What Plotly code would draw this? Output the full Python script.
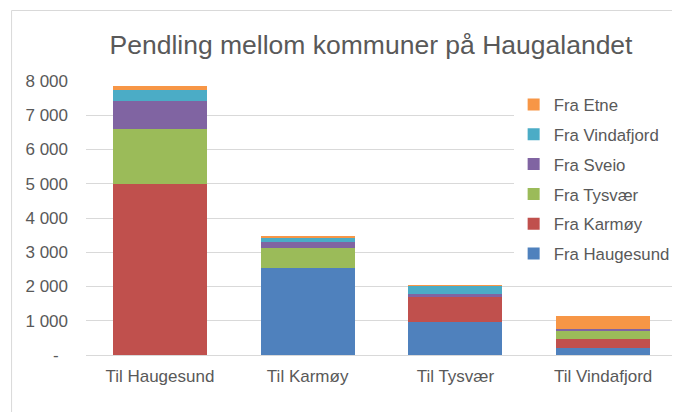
import plotly.graph_objects as go

categories = ["Til Haugesund", "Til Karmøy", "Til Tysvær", "Til Vindafjord"]
series_names = ["Fra Haugesund", "Fra Karmøy", "Fra Tysvær", "Fra Sveio", "Fra Vindafjord", "Fra Etne"]
fra_haugesund = [0, 2540, 960, 210]
fra_karmoy = [5000, 0, 730, 250]
fra_tysvaer = [1590, 590, 0, 250]
fra_sveio = [840, 170, 80, 50]
fra_vindafjord = [320, 130, 250, 0]
fra_etne = [100, 20, 20, 390]
colors = ["#4F81BD", "#C0504D", "#9BBB59", "#8064A2", "#4BACC6", "#F79646"]
tick_vals = [0, 1000, 2000, 3000, 4000, 5000, 6000, 7000, 8000]
tick_text = ["-\u00a0\u00a0", "1 000", "2 000", "3 000", "4 000", "5 000", "6 000", "7 000", "8 000"]

series_values = [fra_haugesund, fra_karmoy, fra_tysvaer, fra_sveio, fra_vindafjord, fra_etne]

FONT = "Liberation Sans, Arial, sans-serif"
TXT = "#595959"

fig = go.Figure()
n = len(series_names)
for i, (name, vals, col) in enumerate(zip(series_names, series_values, colors)):
    fig.add_trace(go.Bar(x=categories, y=vals, name=name, marker=dict(color=col, line=dict(width=0)),
                         legendgroup=name, legendrank=n - i))

# page body has an 8px margin: positions below are screen coords minus 8
OFF = 8
W, H = 672, 404
L, R, T, B = 86 - OFF, 2.5, 81 - OFF, 57
pw, ph = W - L - R, H - T - B

fig.update_layout(
    width=W, height=H,
    margin=dict(l=L, r=R, t=T, b=B, pad=0, autoexpand=False),
    paper_bgcolor="white", plot_bgcolor="white",
    barmode="stack", bargap=0.365,
    font=dict(family=FONT, size=17, color=TXT),
    title=dict(text="Pendling mellom kommuner på Haugalandet", x=(371 - OFF) / W, xanchor="center",
               y=1 - (45 - OFF) / H, yanchor="middle", font=dict(size=26.5, color=TXT, family=FONT)),
    xaxis=dict(showgrid=False, showline=True, linecolor="#D9D9D9", linewidth=1, ticks="",
               ticklabelstandoff=6, tickfont=dict(size=17, color=TXT), automargin=False),
    yaxis=dict(range=[0, 8000], tickvals=tick_vals, ticktext=tick_text, showgrid=True,
               gridcolor="#D9D9D9", gridwidth=1, zeroline=False, showline=False, ticks="",
               ticklabelstandoff=17, tickfont=dict(size=17, color=TXT), automargin=False),
    legend=dict(x=(514 - 86) / pw, xanchor="left", y=(355 - 87) / ph, yanchor="top",
                bgcolor="white", traceorder="grouped", tracegroupgap=5,
                font=dict(size=16.8, color=TXT, family=FONT)),
    showlegend=True,
    shapes=[dict(type="rect", xref="paper", yref="paper",
                 x0=(11.5 - 86) / pw, x1=(W + 30 - L) / pw,
                 y0=-(B + 30) / ph, y1=(355 - 10.5) / ph,
                 line=dict(color="#D9D9D9", width=1), fillcolor="rgba(0,0,0,0)", layer="below")],
)

fig.write_html("out.html")
